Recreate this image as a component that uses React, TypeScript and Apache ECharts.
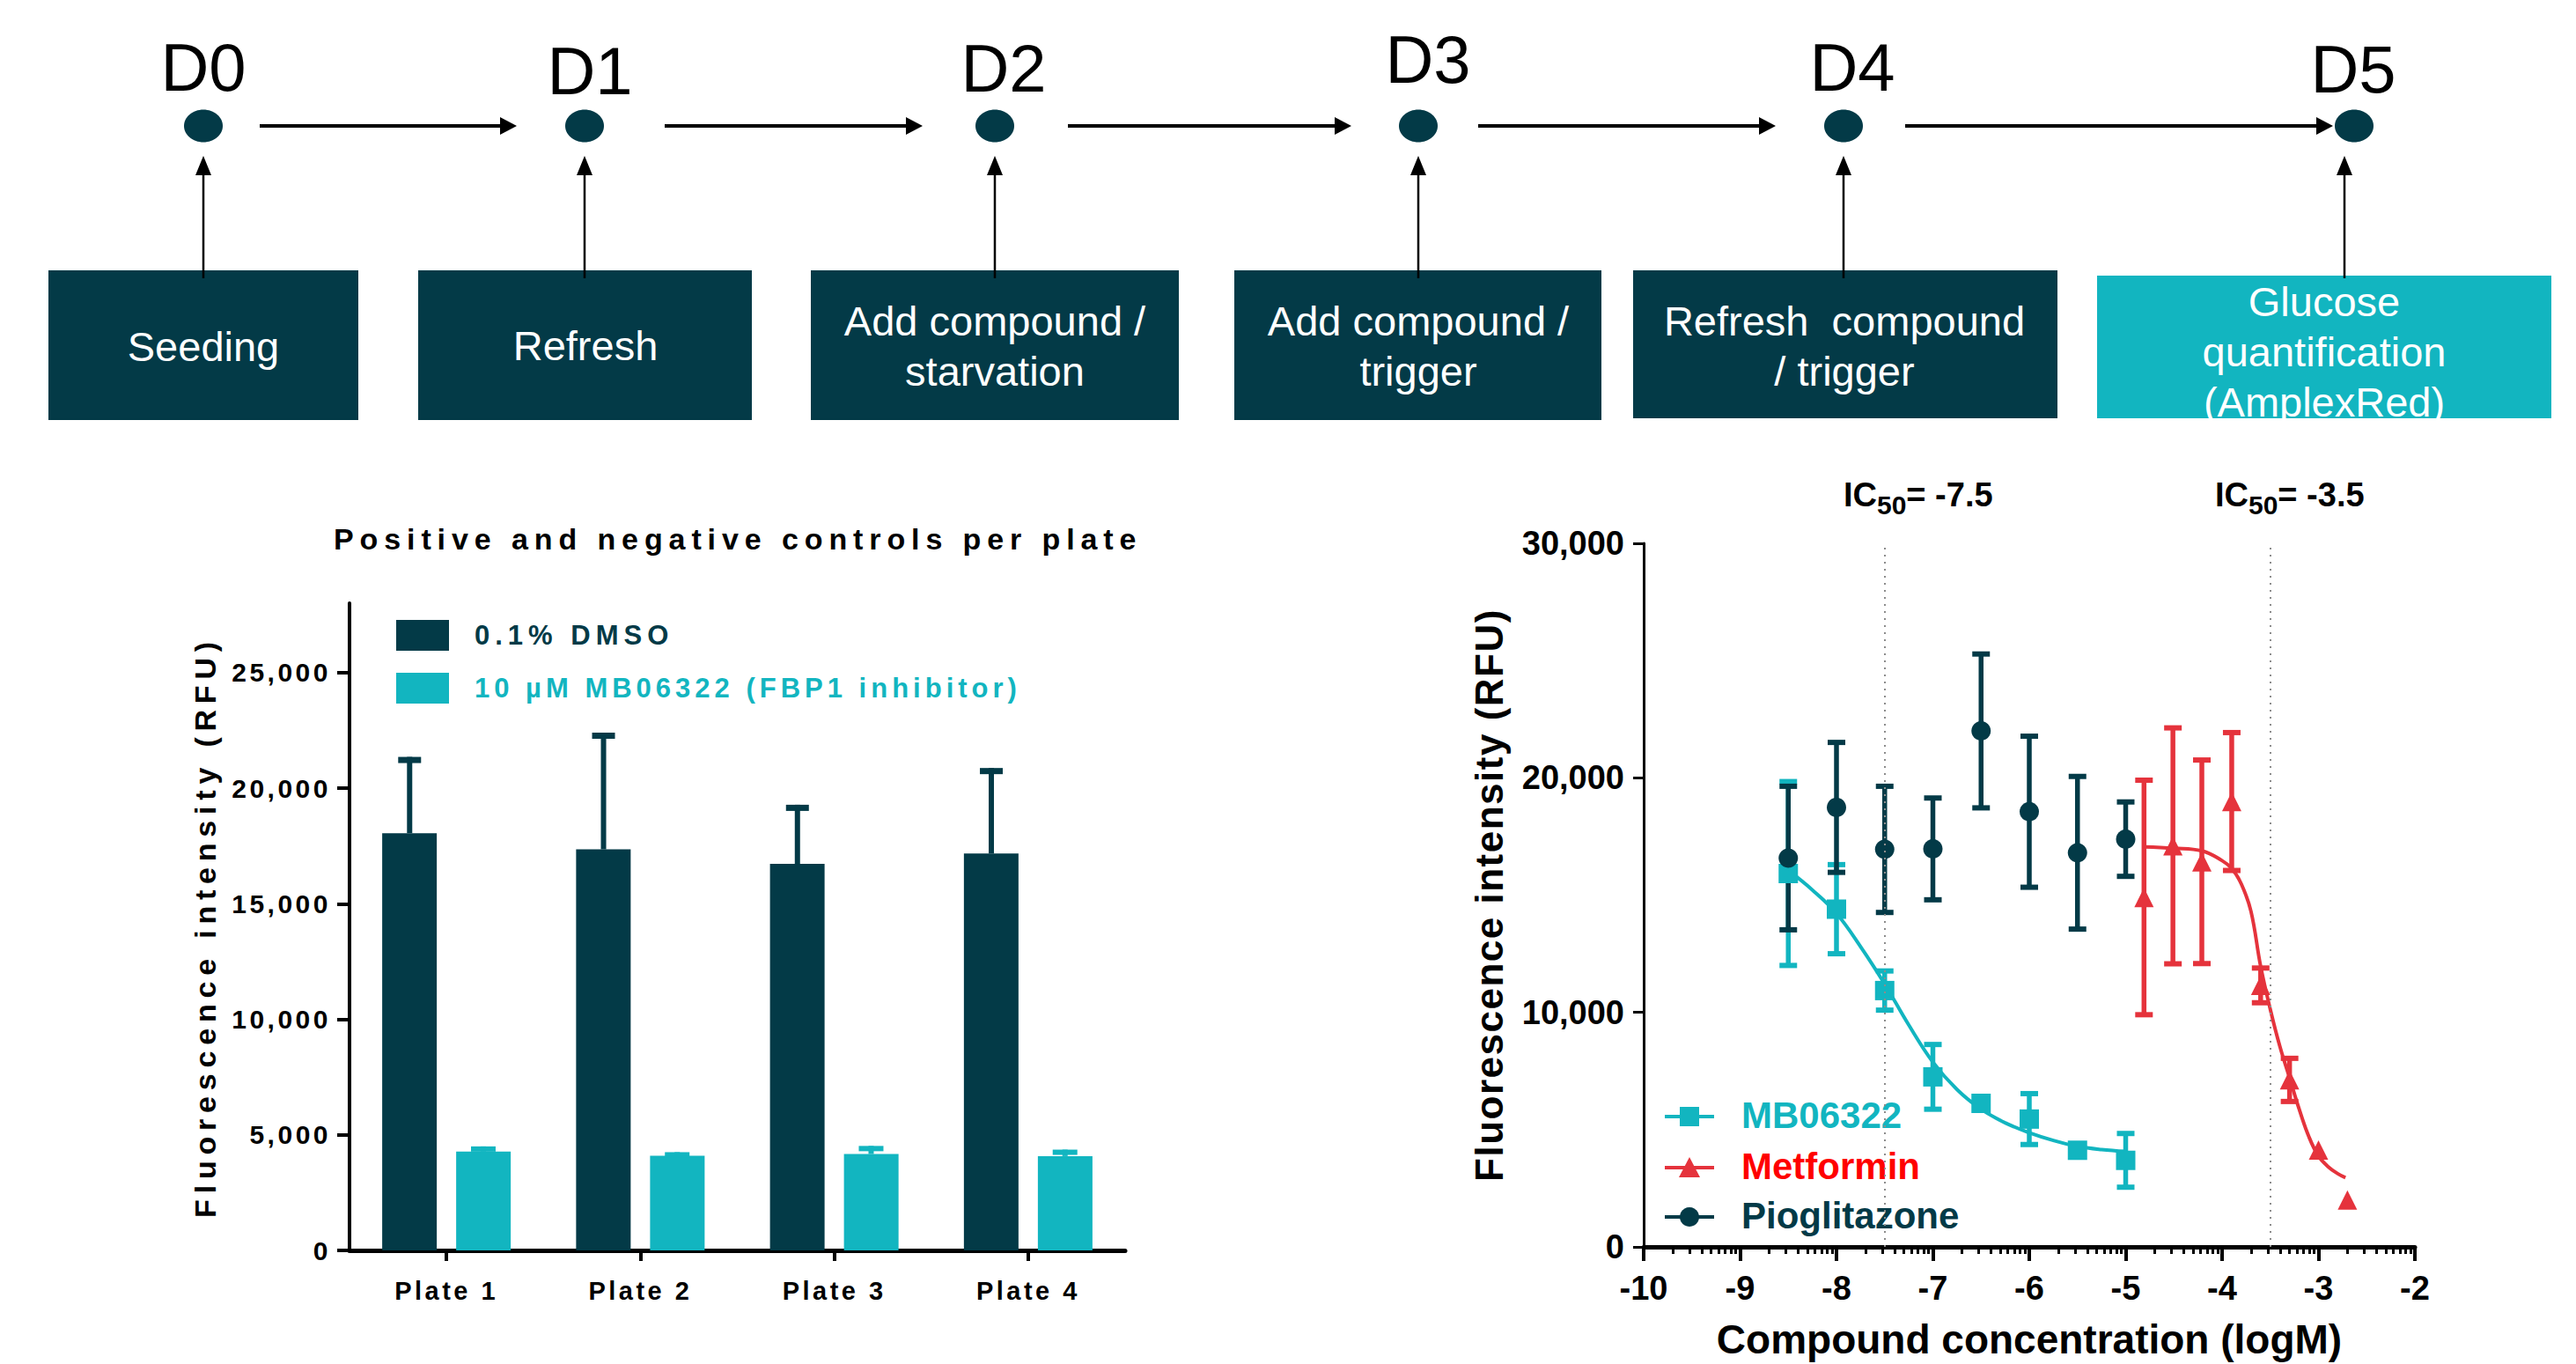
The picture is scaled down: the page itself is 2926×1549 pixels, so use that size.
import React, { useEffect, useRef } from "react";
import * as echarts from "echarts";

const FONT = '"Liberation Sans", Arial, Helvetica, sans-serif';
const DARK = "#033a47";
const TEAL = "#12b5c0";
const RED = "#e5333c";
const RED_TEXT = "#ff0000";

// ---------------- data ----------------
const dayLabels = ["D0", "D1", "D2", "D3", "D4", "D5"];
const stepTexts = [
  "Seeding",
  "Refresh",
  "Add compound /\nstarvation",
  "Add compound /\ntrigger",
  "Refresh  compound\n/ trigger",
  "Glucose\nquantification\n(AmplexRed)",
];

const leftTitle = "Positive and negative controls per plate";
const leftSeriesNames = ["0.1% DMSO", "10 \u00b5M MB06322 (FBP1 inhibitor)"];
const plates = ["Plate 1", "Plate 2", "Plate 3", "Plate 4"];
const dmsoMean = [18050, 17350, 16720, 17170];
const dmsoSD = [3300, 5050, 2560, 3700];
const inhibMean = [4280, 4100, 4170, 4080];
const inhibSD = [220, 150, 350, 280];
const leftTicks = [0, 5000, 10000, 15000, 20000, 25000];

const rightSeriesNames = ["MB06322", "Metformin", "Pioglitazone"];
const concLog = [-8.5, -8, -7.5, -7, -6.5, -6, -5.5, -5];
const mbMean = [15920, 14400, 10930, 7250, 6120, 5450, 4120, 3690];
const mbSD = [3920, 1900, 835, 1380, 0, 1085, 0, 1145];
const metConcLog = [-4.81, -4.51, -4.21, -3.9, -3.6, -3.3, -3.0, -2.7];
const metMean = [14900, 17100, 16420, 18990, 11150, 7120, 4130, 2000];
const metSD = [5000, 5030, 4340, 2940, 740, 920, 0, 0];
const pioMean = [16580, 18740, 16950, 16970, 22000, 18555, 16805, 17386];
const pioSD = [3060, 2770, 2690, 2170, 3280, 3220, 3255, 1586];

const mbFitX = [-8.5, -8.25, -8, -7.75, -7.5, -7.25, -7, -6.75, -6.5, -6.25, -6, -5.75, -5.5, -5.25, -5];
const mbFitY = [16055, 15220, 14220, 12800, 11210, 9460, 7880, 6710, 5870, 5290, 4870, 4540, 4290, 4150, 4070];
const metFitX = [-4.81, -4.5, -4.21, -4.0, -3.9, -3.8, -3.7, -3.6, -3.5, -3.4, -3.3, -3.2, -3.1, -3.0, -2.9, -2.8, -2.72];
const metFitY = [17060, 17000, 16885, 16470, 16135, 15470, 14300, 11960, 10130, 8540, 7210, 5870, 4700, 3870, 3420, 3120, 2950];

const ic50Values = [-7.5, -3.5];
const ic50Texts = ["= -7.5", "= -3.5"];

// ---------------- layout (positions only) ----------------
const labelPos = [[231, 76], [670, 80], [1140, 77], [1622, 67], [2104, 76], [2673, 78]];
const dotX = [231, 664, 1130, 1611, 2094, 2674];
const DOT_Y = 143;
const hArrows = [[295, 587], [755, 1048], [1213, 1535], [1679, 2017], [2164, 2650]];
const vArrowX = [231, 664, 1130, 1611, 2094, 2663];
const boxes = [
  [55, 307, 352, 170],
  [475, 307, 379, 170],
  [921, 307, 418, 170],
  [1402, 307, 417, 170],
  [1855, 307, 482, 168],
  [2382, 313, 516, 162],
];
const boxTextPos = [[231, 393], [665, 392], [1130, 393], [1611, 393], [2095, 393], [2640, 399]];
const icLabelPos = [[2094, 543], [2516, 543]];
const rightLegendY = [1268, 1326, 1382];
const leftLegendTop = [704, 764];

const minorTicks: number[] = [];
for (let d = -10; d < -2; d++) {
  for (let k = 2; k <= 9; k++) minorTicks.push(d + Math.log10(k));
}

const fmt = (v: number) => Math.round(v).toLocaleString("en-US");

function buildGraphic() {
  const els: any[] = [];
  boxes.forEach((b, i) => {
    els.push({
      type: "rect",
      shape: { x: b[0], y: b[1], width: b[2], height: b[3] },
      style: { fill: i === 5 ? TEAL : DARK },
      silent: true,
    });
  });
  stepTexts.forEach((t, i) => {
    els.push({
      type: "text",
      x: boxTextPos[i][0],
      y: boxTextPos[i][1],
      style: {
        text: t,
        fill: "#ffffff",
        fontSize: 47,
        fontFamily: FONT,
        lineHeight: 57,
        align: "center",
        verticalAlign: "middle",
      },
      silent: true,
    });
  });
  dayLabels.forEach((t, i) => {
    els.push({
      type: "text",
      x: labelPos[i][0],
      y: labelPos[i][1],
      style: { text: t, fill: "#000", fontSize: 76, fontFamily: FONT, align: "center", verticalAlign: "middle" },
      silent: true,
    });
  });
  dotX.forEach((x) => {
    els.push({ type: "ellipse", shape: { cx: x, cy: DOT_Y, rx: 22, ry: 18.5 }, style: { fill: DARK }, silent: true });
  });
  hArrows.forEach(([a, b]) => {
    els.push({ type: "line", shape: { x1: a, y1: DOT_Y, x2: b - 14, y2: DOT_Y }, style: { stroke: "#000", lineWidth: 4 }, silent: true });
    els.push({
      type: "polygon",
      shape: { points: [[b - 19, DOT_Y - 10], [b, DOT_Y], [b - 19, DOT_Y + 10]] },
      style: { fill: "#000" },
      silent: true,
    });
  });
  vArrowX.forEach((x) => {
    els.push({ type: "line", shape: { x1: x, y1: 316, x2: x, y2: 194 }, style: { stroke: "#000", lineWidth: 2.5 }, silent: true });
    els.push({
      type: "polygon",
      shape: { points: [[x - 9, 199], [x, 177], [x + 9, 199]] },
      style: { fill: "#000" },
      silent: true,
    });
  });
  ic50Texts.forEach((t, i) => {
    els.push({
      type: "text",
      x: icLabelPos[i][0],
      y: icLabelPos[i][1],
      style: {
        text: "{m|IC}{s|50}{m|" + t + "}",
        align: "left",
        verticalAlign: "top",
        rich: {
          m: { fontSize: 38, fontWeight: "bold", fontFamily: FONT, fill: "#000", lineHeight: 38, verticalAlign: "top" },
          s: { fontSize: 30, fontWeight: "bold", fontFamily: FONT, fill: "#000", lineHeight: 60, verticalAlign: "middle" },
        },
      },
      silent: true,
    });
  });
  const cols = [TEAL, RED, DARK];
  const textCols = [TEAL, RED_TEXT, DARK];
  rightSeriesNames.forEach((name, i) => {
    const y = rightLegendY[i];
    els.push({ type: "line", shape: { x1: 1891, y1: y, x2: 1947, y2: y }, style: { stroke: cols[i], lineWidth: 4 }, silent: true });
    if (i === 0) {
      els.push({ type: "rect", shape: { x: 1908, y: y - 11, width: 22, height: 22 }, style: { fill: cols[i] }, silent: true });
    } else if (i === 1) {
      els.push({
        type: "polygon",
        shape: { points: [[1919, y - 12], [1907, y + 11], [1931, y + 11]] },
        style: { fill: cols[i] },
        silent: true,
      });
    } else {
      els.push({ type: "circle", shape: { cx: 1919, cy: y, r: 11 }, style: { fill: cols[i] }, silent: true });
    }
    els.push({
      type: "text",
      x: 1978,
      y: y - 2,
      style: { text: name, fill: textCols[i], fontSize: 42, fontWeight: "bold", fontFamily: FONT, align: "left", verticalAlign: "middle" },
      silent: true,
    });
  });
  return els;
}

function errRender(color: string) {
  return (params: any, api: any) => {
    const x = api.value(0);
    const y = api.value(1);
    const e = api.value(2);
    if (!e) return { type: "group", children: [] };
    const p0 = api.coord([x, y - e]);
    const p1 = api.coord([x, y + e]);
    const c = 10;
    return {
      type: "group",
      children: [
        { type: "line", shape: { x1: p0[0], y1: p0[1], x2: p1[0], y2: p1[1] }, style: { stroke: color, lineWidth: 5.5 } },
        { type: "line", shape: { x1: p1[0] - c, y1: p1[1], x2: p1[0] + c, y2: p1[1] }, style: { stroke: color, lineWidth: 6 } },
        { type: "line", shape: { x1: p0[0] - c, y1: p0[1], x2: p0[0] + c, y2: p0[1] }, style: { stroke: color, lineWidth: 6 } },
      ],
    };
  };
}

function barErrRender(color: string, side: number, capW: number, capH: number) {
  return (params: any, api: any) => {
    const i = api.value(0);
    const m = api.value(1);
    const e = api.value(2);
    const base = api.coord([i, m]);
    const top = api.coord([i, m + e]);
    const band = api.size([1, 0])[0];
    const x = base[0] + side * band * 0.19;
    return {
      type: "group",
      children: [
        { type: "line", shape: { x1: x, y1: base[1], x2: x, y2: top[1] }, style: { stroke: color, lineWidth: 6 } },
        { type: "rect", shape: { x: x - capW / 2, y: top[1], width: capW, height: capH }, style: { fill: color } },
      ],
    };
  };
}

function buildOption(): any {
  const boldText = (size: number, color = "#000") => ({ fontSize: size, fontWeight: "bold", fontFamily: FONT, color });
  const legendBase = {
    orient: "vertical",
    left: 450,
    padding: 0,
    itemWidth: 60,
    itemHeight: 35,
    icon: "rect",
    selectedMode: false,
  };
  return {
    animation: false,
    backgroundColor: "#ffffff",
    title: {
      text: leftTitle,
      left: 379,
      top: 595,
      padding: 0,
      textStyle: { fontSize: 34, fontWeight: "bold", fontFamily: FONT, color: "#000" },
    },
    legend: [
      {
        ...legendBase,
        top: leftLegendTop[0],
        data: [leftSeriesNames[0]],
        textStyle: { fontSize: 31, fontWeight: "bold", fontFamily: FONT, color: DARK, padding: [5, 0, 0, 24] },
      },
      {
        ...legendBase,
        top: leftLegendTop[1],
        data: [leftSeriesNames[1]],
        textStyle: { fontSize: 31, fontWeight: "bold", fontFamily: FONT, color: TEAL, padding: [12, 0, 0, 24] },
      },
    ],
    grid: [
      { left: 397, top: 685, width: 881, height: 735, containLabel: false },
      { left: 1867, top: 617, width: 876, height: 802.5, containLabel: false },
    ],
    xAxis: [
      {
        type: "category",
        gridIndex: 0,
        data: plates,
        boundaryGap: true,
        axisLine: { show: true, lineStyle: { color: "#000", width: 5 } },
        axisTick: { show: true, alignWithLabel: true, length: 12, lineStyle: { color: "#000", width: 4 } },
        axisLabel: { ...boldText(29), margin: 31 },
        splitLine: { show: false },
      },
      {
        type: "value",
        gridIndex: 1,
        min: -10,
        max: -2,
        interval: 1,
        position: "bottom",
        name: "Compound concentration (logM)",
        nameLocation: "middle",
        nameGap: 82,
        nameTextStyle: boldText(46),
        axisLine: { show: true, onZero: false, lineStyle: { color: "#000", width: 5 } },
        axisTick: { show: true, length: 16, lineStyle: { color: "#000", width: 4 } },
        axisLabel: { ...boldText(38), margin: 28 },
        splitLine: { show: false },
      },
      {
        type: "value",
        gridIndex: 1,
        min: -10,
        max: -2,
        position: "bottom",
        axisLine: { show: false },
        axisTick: { show: true, length: 8, customValues: minorTicks, lineStyle: { color: "#000", width: 3 } },
        axisLabel: { show: false },
        splitLine: { show: false },
      },
    ],
    yAxis: [
      {
        type: "value",
        gridIndex: 0,
        min: 0,
        max: 28000,
        interval: 5000,
        name: "Fluorescence intensity (RFU)",
        nameLocation: "middle",
        nameRotate: 90,
        nameGap: 147,
        nameTextStyle: boldText(34),
        axisLine: { show: true, lineStyle: { color: "#000", width: 4 } },
        axisTick: { show: true, length: 14, customValues: leftTicks, lineStyle: { color: "#000", width: 4 } },
        axisLabel: { ...boldText(30), margin: 21, customValues: leftTicks, formatter: (v: number) => fmt(v) },
        splitLine: { show: false },
      },
      {
        type: "value",
        gridIndex: 1,
        min: 0,
        max: 30000,
        interval: 10000,
        name: "Fluorescence intensity (RFU)",
        nameLocation: "middle",
        nameRotate: 90,
        nameGap: 154,
        nameTextStyle: boldText(44),
        axisLine: { show: true, onZero: false, lineStyle: { color: "#000", width: 3 } },
        axisTick: { show: true, length: 12, lineStyle: { color: "#000", width: 3 } },
        axisLabel: { ...boldText(38), margin: 22, formatter: (v: number) => fmt(v) },
        splitLine: { show: false },
      },
    ],
    graphic: { elements: buildGraphic() },
    series: [
      {
        name: leftSeriesNames[0],
        type: "bar",
        xAxisIndex: 0,
        yAxisIndex: 0,
        data: dmsoMean,
        barWidth: 62,
        barGap: "35.5%",
        itemStyle: { color: DARK },
        silent: true,
      },
      {
        name: leftSeriesNames[1],
        type: "bar",
        xAxisIndex: 0,
        yAxisIndex: 0,
        data: inhibMean,
        barWidth: 62,
        barGap: "35.5%",
        itemStyle: { color: TEAL },
        silent: true,
      },
      {
        type: "custom",
        xAxisIndex: 0,
        yAxisIndex: 0,
        data: plates.map((_, i) => [i, dmsoMean[i], dmsoSD[i]]),
        encode: { x: 0, y: 1 },
        renderItem: barErrRender(DARK, -1, 26, 7),
        z: 3,
        silent: true,
      },
      {
        type: "custom",
        xAxisIndex: 0,
        yAxisIndex: 0,
        data: plates.map((_, i) => [i, inhibMean[i], inhibSD[i]]),
        encode: { x: 0, y: 1 },
        renderItem: barErrRender(TEAL, 1, 28, 6),
        z: 3,
        silent: true,
      },
      {
        name: rightSeriesNames[0] + " fit",
        type: "line",
        xAxisIndex: 1,
        yAxisIndex: 1,
        data: mbFitX.map((x, i) => [x, mbFitY[i]]),
        showSymbol: false,
        symbol: "none",
        smooth: 0.4,
        lineStyle: { color: TEAL, width: 4 },
        silent: true,
        z: 1,
        markLine: {
          silent: true,
          symbol: ["none", "none"],
          label: { show: false },
          lineStyle: { type: [2, 6], color: "#8c8c8c", width: 2 },
          data: ic50Values.map((v) => ({ xAxis: v })),
        },
      },
      {
        name: rightSeriesNames[1] + " fit",
        type: "line",
        xAxisIndex: 1,
        yAxisIndex: 1,
        data: metFitX.map((x, i) => [x, metFitY[i]]),
        showSymbol: false,
        symbol: "none",
        smooth: 0.4,
        lineStyle: { color: RED, width: 4 },
        silent: true,
        z: 1,
      },
      {
        type: "custom",
        xAxisIndex: 1,
        yAxisIndex: 1,
        data: concLog.map((x, i) => [x, mbMean[i], mbSD[i]]),
        encode: { x: 0, y: 1 },
        renderItem: errRender(TEAL),
        silent: true,
      },
      {
        name: rightSeriesNames[0],
        type: "scatter",
        xAxisIndex: 1,
        yAxisIndex: 1,
        data: concLog.map((x, i) => [x, mbMean[i]]),
        symbol: "rect",
        symbolSize: 22,
        itemStyle: { color: TEAL, opacity: 1 },
        silent: true,
      },
      {
        type: "custom",
        xAxisIndex: 1,
        yAxisIndex: 1,
        data: metConcLog.map((x, i) => [x, metMean[i], metSD[i]]),
        encode: { x: 0, y: 1 },
        renderItem: errRender(RED),
        silent: true,
      },
      {
        name: rightSeriesNames[1],
        type: "scatter",
        xAxisIndex: 1,
        yAxisIndex: 1,
        data: metConcLog.map((x, i) => [x, metMean[i]]),
        symbol: "triangle",
        symbolSize: 22,
        itemStyle: { color: RED, opacity: 1 },
        silent: true,
      },
      {
        type: "custom",
        xAxisIndex: 1,
        yAxisIndex: 1,
        data: concLog.map((x, i) => [x, pioMean[i], pioSD[i]]),
        encode: { x: 0, y: 1 },
        renderItem: errRender(DARK),
        silent: true,
      },
      {
        name: rightSeriesNames[2],
        type: "scatter",
        xAxisIndex: 1,
        yAxisIndex: 1,
        data: concLog.map((x, i) => [x, pioMean[i]]),
        symbol: "circle",
        symbolSize: 22,
        itemStyle: { color: DARK, opacity: 1 },
        silent: true,
      },
    ],
  };
}

function applySpacing(root: HTMLElement) {
  root.querySelectorAll("text").forEach((t) => {
    const s = (t.textContent || "").trim();
    const r = t.getBoundingClientRect();
    const cx = r.left + r.width / 2;
    let ls = 0;
    if (cx < 1450 && r.top > 520) {
      if (s.startsWith("Positive")) ls = 6.9;
      else if (s === leftSeriesNames[0]) ls = 6;
      else if (s === leftSeriesNames[1]) ls = 5;
      else if (s.startsWith("Fluorescence")) ls = 6.8;
      else if (s.startsWith("Plate")) ls = 3.5;
      else if (/^[\d,]+$/.test(s)) ls = 3.5;
    } else if (cx >= 1450 && s.startsWith("Fluorescence")) {
      ls = 1.5;
    }
    if (ls && t.getAttribute("letter-spacing") !== String(ls)) t.setAttribute("letter-spacing", String(ls));
  });
}

export default function App() {
  const ref = useRef<HTMLDivElement>(null);
  useEffect(() => {
    const el = ref.current;
    if (!el) return;
    const chart = echarts.init(el, undefined, { renderer: "svg" });
    chart.setOption(buildOption());
    const apply = () => applySpacing(el);
    apply();
    chart.on("finished", apply);
    const raf = requestAnimationFrame(apply);
    const t = setTimeout(apply, 100);
    return () => {
      cancelAnimationFrame(raf);
      clearTimeout(t);
      chart.dispose();
    };
  }, []);
  return (
    <div
      ref={ref}
      style={{ position: "absolute", left: 0, top: 0, width: 2926, height: 1549, background: "#ffffff" }}
    />
  );
}
